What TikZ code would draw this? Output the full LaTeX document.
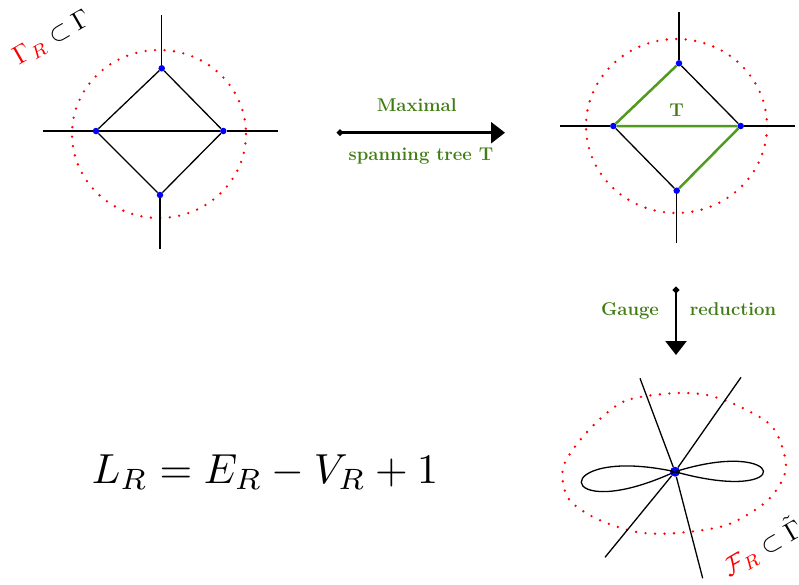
\documentclass[tikz,border=0pt]{standalone}
\usepackage{amsmath,amssymb}
\usepackage{fontspec}
\usetikzlibrary{arrows.meta}
\definecolor{treegreen}{RGB}{80,155,30}
\definecolor{labelgreen}{RGB}{65,125,20}

\begin{document}
\begin{tikzpicture}[x=1pt,y=-1pt,
    vtx/.style={circle, fill=blue, inner sep=0pt, minimum size=6.5pt},
    gline/.style={line width=1.3pt, black},
    tline/.style={line width=2.5pt, treegreen},
    region/.style={red, line width=2.6pt, line cap=round, dash pattern=on 0pt off 9.5pt},
    bigarr/.style={{Circle[length=6pt]}-{Triangle[length=14pt,width=21pt]}, line width=2.6pt},
    lab/.style={font=\fontsize{18.5}{22}\selectfont\bfseries, text=labelgreen},
    tag/.style={scale=2.6, rotate=30}
]
    \useasboundingbox (0,0) rectangle (799,584);

    % original graph Gamma_R inside Gamma
    \draw[region] (159,134) ellipse[x radius=87, y radius=84];
    \node[vtx] (ltop) at (161.7,68.3) {};
    \node[vtx] (lleft) at (96,131) {};
    \node[vtx] (lright) at (223.3,131) {};
    \node[vtx] (lbot) at (160,195) {};
    \coordinate (ltop-leg) at (161.7,15);
    \coordinate (lbot-leg) at (160,249);
    \coordinate (lleft-leg) at (42.7,131);
    \coordinate (lright-leg) at (278,131);
    \draw[gline] (ltop) -- (lleft) -- (lbot) -- (lright) -- (ltop);
    \draw[gline] (lleft) -- (lright);
    \draw[gline] (ltop) -- (ltop-leg);
    \draw[gline] (lbot) -- (lbot-leg);
    \draw[gline] (lleft) -- (lleft-leg);
    \draw[gline] (lright) -- (lright-leg);
    \node[tag] (gtag) at (52,38) {$\textcolor{red}{\Gamma_R}\subset\Gamma$};

    % graph with maximal spanning tree T
    \draw[region] (676.5,126) ellipse[x radius=90.5, y radius=87];
    \node[vtx] (ttop) at (679,63.3) {};
    \node[vtx] (tleft) at (613.3,126) {};
    \node[vtx] (tright) at (740.7,126) {};
    \node[vtx] (tbot) at (676.7,190.7) {};
    \coordinate (ttop-leg) at (679,11.7);
    \coordinate (tbot-leg) at (676.7,243);
    \coordinate (tleft-leg) at (560,126);
    \coordinate (tright-leg) at (795,126);
    \draw[gline] (ttop) -- (tright);
    \draw[gline] (tleft) -- (tbot);
    \draw[tline] (tbot) -- (tright) -- (tleft) -- (ttop);
    \draw[gline] (ttop) -- (ttop-leg);
    \draw[gline] (tbot) -- (tbot-leg);
    \draw[gline] (tleft) -- (tleft-leg);
    \draw[gline] (tright) -- (tright-leg);
    \node[lab, anchor=base] (tname) at (676.7,116.7) {T};

    % flower graph F_R
    \draw[region] plot[smooth cycle] coordinates {(671.7,393.3) (623.3,401.7) (587,432) (563.3,466.7) (568,498) (595,518) (635,531.7) (673.3,533.3) (726.7,525) (768,500) (786,468) (773.3,428) (740,406.7) (706.7,395)};
    \node[circle, fill=blue, inner sep=0pt, minimum size=10pt] (fc) at (675,471.7) {};
    \coordinate (fleg1) at (640,378.3);
    \coordinate (fleg2) at (702.7,578.3);
    \coordinate (fleg3) at (741,377.3);
    \coordinate (fleg4) at (605,557.3);
    \draw[gline] (fleg1) -- (fc) -- (fleg2);
    \draw[gline] (fleg3) -- (fc) -- (fleg4);
    \draw[gline] (fc.center) .. controls (547,444) and (553,528) .. (fc.center);
    \draw[gline] (fc.center) .. controls (788,436) and (798,506) .. (fc.center);
    \node[tag] (ftag) at (762,547) {$\textcolor{red}{\mathcal{F}_R}\subset\tilde{\Gamma}$};

    % arrows between the steps
    \coordinate (h0) at (337,132.7);
    \coordinate (h1) at (505,132.7);
    \draw[bigarr] (h0) -- (h1);
    \node[lab, anchor=base] (max) at (416.7,111.7) {Maximal};
    \node[lab, anchor=base] (span) at (421,160) {spanning tree T};

    \coordinate (v0) at (676,287);
    \coordinate (v1) at (676,355);
    \draw[bigarr] (v0) -- (v1);
    \node[lab, anchor=base] (gauge) at (630,315) {Gauge};
    \node[lab, anchor=base] (red) at (733,315) {reduction};

    \node[anchor=base, scale=4.2] (loops) at (265,483) {$L_R = E_R - V_R + 1$};
\end{tikzpicture}
\end{document}
